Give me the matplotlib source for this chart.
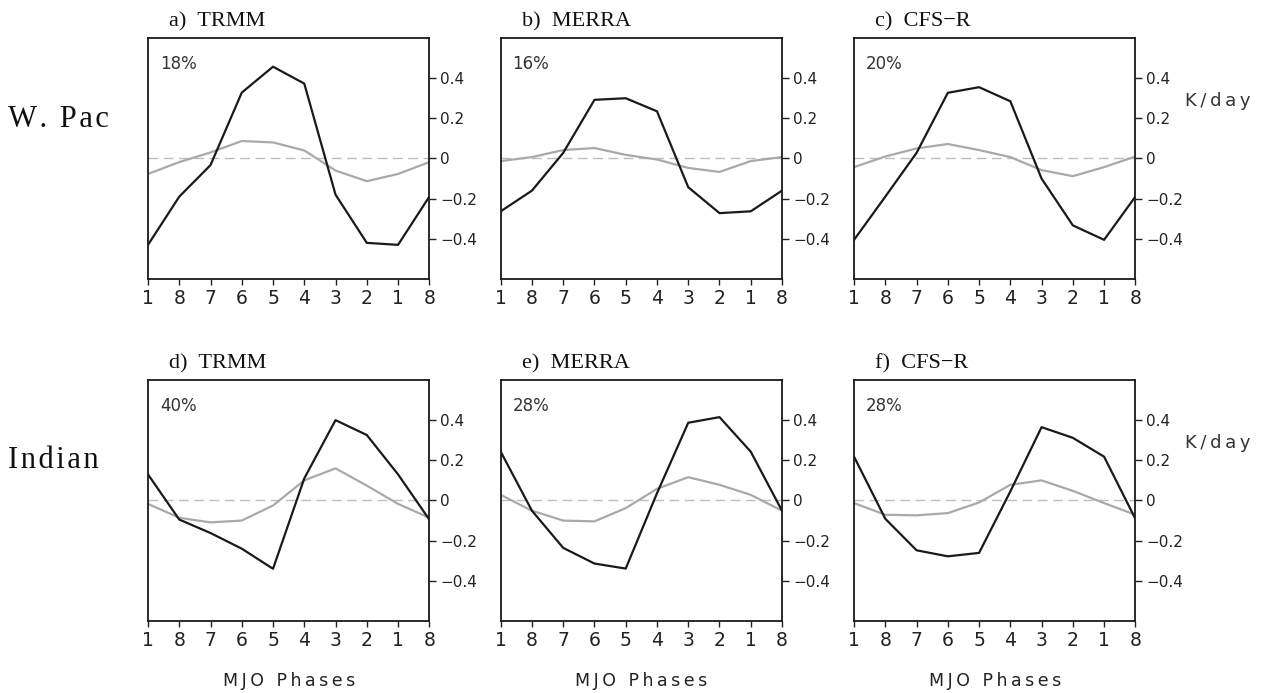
import matplotlib
matplotlib.use("Agg")
import matplotlib.pyplot as plt
from matplotlib.ticker import FuncFormatter

# MJO phase sequence along the x axis (one full cycle plus wrap-around)
phase_order = [1, 8, 7, 6, 5, 4, 3, 2, 1, 8]

# composite values per MJO phase 1..8 (K/day); dark = total, light = component
trmm_wpac = [-0.43, -0.42, -0.18, 0.373, 0.457, 0.328, -0.033, -0.19]
trmm_wpac_lt = [-0.077, -0.113, -0.06, 0.04, 0.08, 0.087, 0.03, -0.018]
merra_wpac = [-0.263, -0.272, -0.143, 0.235, 0.30, 0.292, 0.028, -0.16]
merra_wpac_lt = [-0.013, -0.067, -0.047, -0.005, 0.018, 0.052, 0.042, 0.007]
cfsr_wpac = [-0.405, -0.333, -0.10, 0.285, 0.355, 0.327, 0.028, -0.19]
cfsr_wpac_lt = [-0.043, -0.088, -0.058, 0.007, 0.042, 0.072, 0.05, 0.01]

trmm_ind = [0.13, 0.326, 0.40, 0.11, -0.34, -0.24, -0.162, -0.095]
trmm_ind_lt = [-0.017, 0.074, 0.16, 0.10, -0.025, -0.10, -0.109, -0.086]
merra_ind = [0.243, 0.415, 0.387, 0.036, -0.339, -0.314, -0.236, -0.051]
merra_ind_lt = [0.028, 0.078, 0.116, 0.058, -0.038, -0.104, -0.10, -0.051]
cfsr_ind = [0.218, 0.312, 0.365, 0.045, -0.261, -0.278, -0.248, -0.091]
cfsr_ind_lt = [-0.013, 0.048, 0.10, 0.078, -0.01, -0.063, -0.074, -0.071]

titles = ["a)  TRMM", "b)  MERRA", "c)  CFS\u2212R",
          "d)  TRMM", "e)  MERRA", "f)  CFS\u2212R"]
percents = ["18%", "16%", "20%", "40%", "28%", "28%"]
row_labels = ["W. Pac", "Indian"]
y_ticks = [-0.4, -0.2, 0, 0.2, 0.4]

dark_series = [trmm_wpac, merra_wpac, cfsr_wpac, trmm_ind, merra_ind, cfsr_ind]
light_series = [trmm_wpac_lt, merra_wpac_lt, cfsr_wpac_lt,
                trmm_ind_lt, merra_ind_lt, cfsr_ind_lt]

SANS = "DejaVu Sans"
SERIF = "Liberation Serif"

fig = plt.figure(figsize=(12.66, 6.93), dpi=100)

lefts = [0.1169, 0.3955, 0.6746]
bottoms = [0.5974, 0.1039]
w, h = 0.2222, 0.3478


def in_order(vals):
    return [vals[p - 1] for p in phase_order]


def fmt(v, _):
    if abs(v) < 1e-9:
        return "0"
    return f"{v:.1f}".replace("-", "\u2212")


def spaced(s, gap="\u2009"):
    # loosen the letter spacing a little
    return gap.join(s)


x = list(range(len(phase_order)))
for i in range(6):
    row, col = divmod(i, 3)
    ax = fig.add_axes([lefts[col], bottoms[row], w, h])
    ax.axhline(0, color="#bdbdbd", lw=1.0, dashes=(7, 4), zorder=1)
    ax.plot(x, in_order(light_series[i]), color="#a9a9a9", lw=1.6, zorder=2)
    ax.plot(x, in_order(dark_series[i]), color="#1a1a1a", lw=1.6, zorder=3)

    ax.set_xlim(0, 9)
    ax.set_ylim(-0.6, 0.6)
    ax.set_xticks(x)
    ax.set_xticklabels([str(p) for p in phase_order])
    ax.set_yticks(y_ticks)
    ax.yaxis.set_major_formatter(FuncFormatter(fmt))
    ax.yaxis.tick_right()
    ax.tick_params(axis="y", direction="out", length=5, width=1.0,
                   pad=3, labelsize=11, colors="#222222")
    ax.tick_params(axis="x", direction="out", length=4, width=1.0,
                   pad=3, labelsize=13.5, colors="#222222")
    for lab in ax.get_xticklabels() + ax.get_yticklabels():
        lab.set_fontfamily(SANS)
    for s in ax.spines.values():
        s.set_linewidth(1.3)
        s.set_color("#1a1a1a")

    ax.text(0.075, 1.046, titles[i], transform=ax.transAxes, family=SERIF,
            fontsize=16, ha="left", va="baseline", color="#111111")
    ax.text(0.042, 0.93, percents[i], transform=ax.transAxes, family=SANS,
            fontsize=12, ha="left", va="top", color="#333333")

    if row == 1:
        ax.text(0.5, -0.248, spaced("MJO Phases"),
                transform=ax.transAxes, family=SANS, fontsize=12.5,
                ha="center", va="center", color="#222222")
    if col == 2:
        ax.text(1.175, 0.739, spaced("K/day"), transform=ax.transAxes,
                family=SANS, fontsize=13, ha="left", va="center",
                color="#333333")

for row, label in enumerate(row_labels):
    yc = [0.828, 0.335][row]
    fig.text(0.0065, yc, spaced(label, "\u200a"), family=SERIF, fontsize=22,
             ha="left", va="center", color="#111111")

fig.savefig("out.png", dpi=100)
